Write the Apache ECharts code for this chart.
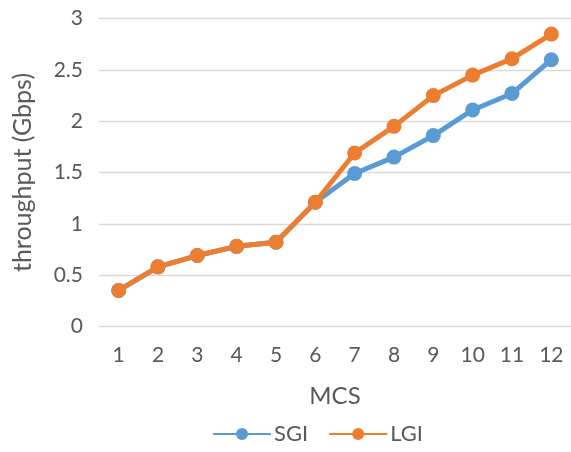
<!DOCTYPE html>
<html>
<head>
<meta charset="utf-8">
<script src="https://cdn.jsdelivr.net/npm/echarts@6/dist/echarts.min.js"></script>
<style>
  html, body { margin: 0; padding: 0; background: #fff; }
  #chart { width: 571px; height: 452px; }
</style>
</head>
<body>
<div id="chart"></div>
<script>
// MCS index on the x axis
const mcs = ['1', '2', '3', '4', '5', '6', '7', '8', '9', '10', '11', '12'];
// Throughput in Gbps per guard interval
const sgi = [0.35, 0.58, 0.69, 0.78, 0.82, 1.21, 1.49, 1.65, 1.86, 2.11, 2.27, 2.60];
const lgi = [0.35, 0.58, 0.69, 0.78, 0.82, 1.21, 1.69, 1.95, 2.25, 2.45, 2.61, 2.85];

const font = 'Lato';
const textColor = '#595959';

const chart = echarts.init(document.getElementById('chart'), null, { renderer: 'canvas' });

function lineSeries(name, data, color) {
  return {
    name: name,
    type: 'line',
    data: data,
    symbol: 'circle',
    symbolSize: 15,
    lineStyle: { width: 5, color: color },
    itemStyle: { color: color },
    emphasis: { disabled: true },
    animation: false
  };
}

chart.setOption({
  animation: false,
  grid: { left: 99, top: 18.7, width: 474, height: 307.6 },
  legend: {
    bottom: 2,
    left: 207,
    itemWidth: 58,
    itemHeight: 15,
    itemGap: 20,
    textStyle: { fontFamily: font, fontSize: 22, color: textColor, padding: [0, 0, 0, -2] },
    data: ['SGI', 'LGI']
  },
  xAxis: {
    type: 'category',
    data: mcs,
    name: 'MCS',
    nameLocation: 'middle',
    nameGap: 58,
    nameTextStyle: { fontFamily: font, fontSize: 24, color: textColor },
    axisLine: { show: false },
    axisTick: { show: false },
    axisLabel: { fontFamily: font, fontSize: 21, color: textColor, margin: 18 }
  },
  yAxis: {
    type: 'value',
    min: 0,
    max: 3,
    interval: 0.5,
    name: 'throughput (Gbps)',
    nameLocation: 'middle',
    nameGap: 64,
    nameTextStyle: { fontFamily: font, fontSize: 25, color: textColor },
    axisLine: { show: false },
    axisTick: { show: false },
    axisLabel: { fontFamily: font, fontSize: 21, color: textColor, margin: 16 },
    splitLine: { lineStyle: { color: '#d9d9d9', width: 1.3 } }
  },
  series: [
    lineSeries('SGI', sgi, '#5b9bd5'),
    lineSeries('LGI', lgi, '#ed7d31')
  ]
});
</script>
</body>
</html>
